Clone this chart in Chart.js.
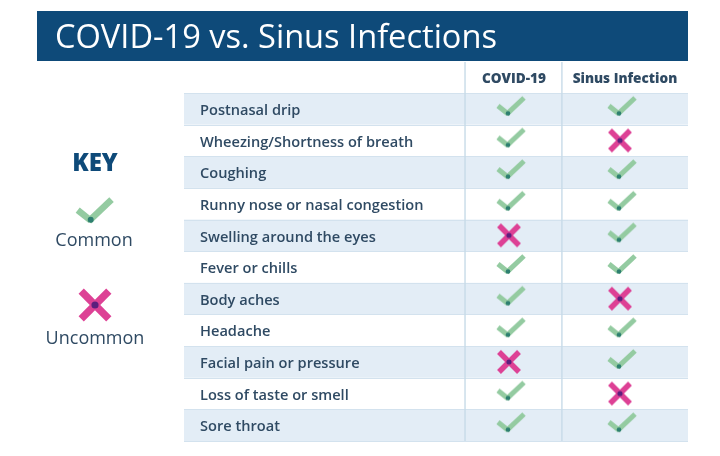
<!DOCTYPE html>
<html><head><meta charset="utf-8">
<style>html,body{margin:0;padding:0;background:#fff}canvas{display:block;filter:blur(0.35px)}</style>
<script src="https://cdn.jsdelivr.net/npm/chart.js@4"></script>
</head><body><div style="width:720px;height:456px"><canvas id="c" width="720" height="456"></canvas></div>
<script>
const titleText = "COVID-19 vs. Sinus Infections";
const keyTitle = "KEY";
const statuses = ["Common", "Uncommon"];
const columns = ["COVID-19", "Sinus Infection"];
const symptoms = ["Postnasal drip","Wheezing/Shortness of breath","Coughing","Runny nose or nasal congestion","Swelling around the eyes","Fever or chills","Body aches","Headache","Facial pain or pressure","Loss of taste or smell","Sore throat"];
const covid = ["Common","Common","Common","Common","Uncommon","Common","Common","Common","Uncommon","Common","Common"];
const sinus = ["Common","Uncommon","Common","Common","Common","Common","Uncommon","Common","Common","Uncommon","Common"];

const FONT = "'Open Sans', Lato, sans-serif";
const NAVY = "#0e4a79", TEXT = "#2f4a63", BAND = "#e3edf6", LINE = "#c7dbe8";

function mark(kind, s) {
  const c = document.createElement("canvas");
  c.width = c.height = Math.ceil(40 * s);
  const g = c.getContext("2d"), m = c.width / 2;
  g.translate(m, m); g.scale(s, s); g.lineCap = "butt";
  if (kind === "Common") {
    g.strokeStyle = "#94cba1"; g.lineWidth = 5;
    g.beginPath(); g.moveTo(-11, -3); g.lineTo(-1, 5); g.stroke();
    g.beginPath(); g.moveTo(-2.4, 5.4); g.lineTo(15, -11); g.stroke();
    g.fillStyle = "#2d7f70"; g.beginPath(); g.arc(-1, 4.5, 2.3, 0, 7); g.fill();
  } else {
    g.strokeStyle = "#dd4195"; g.lineWidth = 5.4;
    g.beginPath(); g.moveTo(-10, -10); g.lineTo(10, 10); g.stroke();
    g.beginPath(); g.moveTo(10, -10); g.lineTo(-10, 10); g.stroke();
    g.fillStyle = "#5b1f7d"; g.beginPath(); g.arc(0, 0, 2.6, 0, 7); g.fill();
  }
  return c;
}
const icons = { Common: mark("Common", 1), Uncommon: mark("Uncommon", 1) };
const bigIcons = { Common: mark("Common", 1.3), Uncommon: mark("Uncommon", 1.38) };

function points(status) {
  const out = [];
  [covid, sinus].forEach((col, cx) => col.forEach((v, i) => {
    if (v === status) out.push({ x: cx + 1, y: symptoms[i] });
  }));
  return out;
}

const frame = {
  id: "frame",
  beforeDraw(ch) {
    const g = ch.ctx, a = ch.chartArea, x = ch.scales.x, y = ch.scales.y;
    const h = (a.bottom - a.top) / symptoms.length;
    g.save();
    g.fillStyle = "#fff"; g.fillRect(0, 0, 720, 456);
    g.fillStyle = NAVY; g.fillRect(37, 11, 651, 50);
    g.fillStyle = "#fff"; g.textBaseline = "middle"; g.textAlign = "left";
    g.font = "400 32.6px " + FONT;
    g.fillText(titleText, 55, 39);
    g.textAlign = "center";
    g.fillStyle = NAVY; g.font = "800 24px " + FONT;
    g.fillText(keyTitle, 95, 164);
    g.fillStyle = TEXT; g.font = "400 18px " + FONT;
    g.fillText(statuses[0], 94, 240.5);
    g.fillText(statuses[1], 95, 339);
    const b = bigIcons;
    g.drawImage(b.Common, 92 - b.Common.width / 2, 214 - b.Common.height / 2);
    g.drawImage(b.Uncommon, 95 - b.Uncommon.width / 2, 305 - b.Uncommon.height / 2);

    g.fillStyle = BAND;
    symptoms.forEach((s, i) => {
      if (i % 2 === 0) g.fillRect(a.left, y.getPixelForValue(i) - h / 2, a.right - a.left, h);
    });
    g.strokeStyle = "#d3e2ee"; g.lineWidth = 1;
    for (let i = 0; i <= symptoms.length; i++) {
      const py = Math.round(a.top + i * h) + 0.5;
      g.beginPath(); g.moveTo(a.left, py); g.lineTo(a.right, py); g.stroke();
    }
    g.strokeStyle = LINE; g.lineWidth = 1.4;
    [0.604, 1.477].forEach(v => {
      const px = x.getPixelForValue(v);
      g.beginPath(); g.moveTo(px, 62); g.lineTo(px, a.bottom); g.stroke();
    });
    g.restore();
  }
};

new Chart(document.getElementById("c"), {
  type: "scatter",
  data: {
    datasets: statuses.map(s => ({
      label: s, data: points(s),
      pointStyle: icons[s], pointRadius: 14, pointHoverRadius: 14
    }))
  },
  plugins: [frame],
  options: {
    responsive: false, animation: false, events: [],
    layout: { padding: { left: 184, right: 32, top: 61, bottom: 13 } },
    plugins: { legend: { display: false }, title: { display: false }, tooltip: { enabled: false } },
    scales: {
      x: {
        type: "linear", position: "top", min: -1.928, max: 2.613,
        afterBuildTicks(sc) { sc.ticks = [{ value: 1 }, { value: 2 }]; },
        afterFit(sc) { sc.height = 32; },
        grid: { display: false, drawTicks: false }, border: { display: false },
        ticks: {
          maxRotation: 0, autoSkip: false, padding: 6, color: TEXT, labelOffset: 5,
          font: { family: FONT, size: 13.6, weight: "800" },
          callback: v => columns[v - 1]
        }
      },
      y: {
        type: "category", labels: symptoms, offset: true, position: "left",
        afterFit(sc) {
          sc.width = 0; sc.paddingTop = 0; sc.paddingBottom = 0;
          sc.getPadding = () => ({ left: 0, top: 0, right: 0, bottom: 0 });
        },
        grid: { display: false, drawTicks: false }, border: { display: false },
        ticks: {
          mirror: true, padding: 16, autoSkip: false, color: TEXT, labelOffset: 2,
          font: { family: FONT, size: 14.6, weight: "600" }
        }
      }
    }
  }
});
</script></body></html>
